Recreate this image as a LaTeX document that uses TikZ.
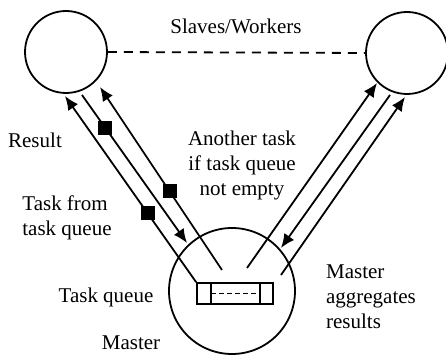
\documentclass[tikz,border=0pt]{standalone}
\usepackage{fontspec}
\setmainfont{Liberation Serif}
\usetikzlibrary{arrows.meta}

\begin{document}
\begin{tikzpicture}[x=0.5pt,y=-0.5pt,line width=0.9pt,
    every node/.style={font=\fontsize{10.5}{12.5}\selectfont},
    worker/.style={circle,draw,inner sep=0pt,minimum size=41pt},
    msg/.style={-{Latex[length=7pt,width=6pt]}},
    token/.style={fill=black,inner sep=0pt,minimum size=7pt}]
    \useasboundingbox (0,0) rectangle (446,358);
    % processes
    \draw (66,52) node(slaveL) [worker] {}
        (407,53) node(slaveR) [worker] {}
        (232,291) node(master) [worker,minimum size=63pt] {}
        (235,293.5) node(queue) [draw,inner sep=0pt,minimum width=38pt,minimum height=10.5pt] {};
    \draw ([xshift=7.5pt]queue.north west) -- ([xshift=7.5pt]queue.south west);
    \draw ([xshift=-7pt]queue.north east) -- ([xshift=-7pt]queue.south east);
    \draw[line width=0.5pt,dash pattern=on 2.5pt off 1.5pt] ([xshift=7.5pt]queue.west) -- ([xshift=-7pt]queue.east);
    \draw[dash pattern=on 4.5pt off 3.5pt] (slaveL.east) -- (slaveR.west);
    % labels
    \draw (236,26) node(workers) {Slaves/Workers}
        (35,140) node(result) {Result}
        (67,218) node[align=left](fromq) {Task from\\task queue}
        (242,165) node[align=center](another) {Another task\\if task queue\\not empty}
        (106,297) node(qlabel) {Task queue}
        (131,343) node(mlabel) {Master}
        (371,297) node[align=left](aggr) {Master\\aggregates\\results};
    % message ends
    \coordinate (s1) at (65,96);
    \coordinate (s2) at (82,95);
    \coordinate (m2) at (187,243);
    \coordinate (m3) at (222,270);
    \coordinate (s3) at (100,87);
    \coordinate (ma) at (247,268);
    \coordinate (sa) at (377,83);
    \coordinate (sb) at (390,95);
    \coordinate (mb) at (281,248);
    \coordinate (mc) at (281,275);
    \coordinate (sc) at (405,97);
    % messages
    \draw[msg] (queue.north west) -- node[token,pos=0.37](tok1) {} (s1);
    \draw[msg] (s2) -- node[token,pos=0.22](tok2) {} (m2);
    \draw[msg] (m3) -- node[token,pos=0.43](tok3) {} (s3);
    \draw[msg] (ma) -- (sa);
    \draw[msg] (sb) -- (mb);
    \draw[msg] (mc) -- (sc);
\end{tikzpicture}
\end{document}
